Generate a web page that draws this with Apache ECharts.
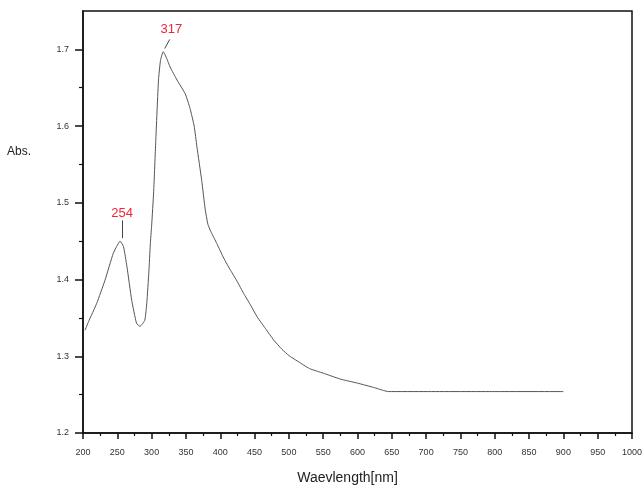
<!DOCTYPE html>
<html>
<head>
<meta charset="utf-8">
<script src="https://cdn.jsdelivr.net/npm/echarts@6/dist/echarts.min.js"></script>
<style>
  html, body { margin: 0; padding: 0; background: #fff; }
  #chart { width: 644px; height: 485px; }
</style>
</head>
<body>
<div id="chart"></div>
<script>
// UV-Vis absorption spectrum
var wavelength = [203, 208, 220, 232, 244, 249, 254, 259, 264, 271, 278, 283, 290, 293, 296, 298, 300, 303, 306, 310, 313, 317, 322, 327, 337, 349, 356, 362, 366, 373, 378, 382, 386, 395, 405, 415, 425, 434, 444, 454, 466, 478, 490, 500, 512, 530, 550, 576, 600, 625, 645, 700, 800, 900];
var absorbance = [1.334, 1.345, 1.369, 1.399, 1.434, 1.443, 1.450, 1.443, 1.417, 1.373, 1.343, 1.339, 1.347, 1.370, 1.410, 1.445, 1.470, 1.515, 1.580, 1.660, 1.686, 1.697, 1.688, 1.677, 1.660, 1.642, 1.623, 1.600, 1.573, 1.529, 1.492, 1.472, 1.463, 1.447, 1.428, 1.412, 1.397, 1.382, 1.367, 1.351, 1.336, 1.321, 1.309, 1.301, 1.294, 1.284, 1.278, 1.270, 1.265, 1.259, 1.254, 1.254, 1.254, 1.254];

var peakWavelengths = [254, 317];
var majorTicksY = [1.2, 1.3, 1.4, 1.5, 1.6, 1.7];
var minorTicksY = [1.25, 1.35, 1.45, 1.55, 1.65];

var spectrum = wavelength.map(function (w, i) { return [w, absorbance[i]]; });
function absAt(w) { return absorbance[wavelength.indexOf(w)]; }

var red = '#f2243a';
var labelOffsets = [[2, -28], [8, -22]];
// leader line ends, in data units relative to each peak
var leaders = [
  [[3, 0.004], [3, 0.027]],
  [[2, 0.004], [9.5, 0.016]]
];

var chart = echarts.init(document.getElementById('chart'));
chart.setOption({
  animation: false,
  backgroundColor: '#fff',
  textStyle: { fontFamily: 'Liberation Sans, Arial, sans-serif' },
  grid: {
    left: 83, right: 12, top: 11, bottom: 52,
    containLabel: false, outerBoundsMode: 'none',
    show: true, borderColor: '#111', borderWidth: 1.5, backgroundColor: 'transparent'
  },
  graphic: [{
    type: 'text', left: 7, top: 146,
    style: { text: 'Abs.', font: '12px "Liberation Sans", Arial, sans-serif', fill: '#222' }
  }],
  xAxis: {
    type: 'value', min: 200, max: 1000, interval: 50,
    axisLine: { lineStyle: { color: '#111', width: 1.5 } },
    axisTick: { inside: false, length: 6, lineStyle: { color: '#111', width: 1.5 } },
    minorTick: { show: true, splitNumber: 2, length: 3, lineStyle: { color: '#111', width: 1.2 } },
    splitLine: { show: false },
    axisLabel: { fontSize: 9, color: '#333', margin: 15, formatter: function (v) { return String(v); } },
    name: 'Waevlength[nm]', nameLocation: 'middle', nameGap: 38,
    nameTextStyle: { fontSize: 14, color: '#222', padding: [0, 20, 0, 0] }
  },
  yAxis: [{
    type: 'value', min: 1.2, max: 1.75, interval: 0.05,
    axisLine: { lineStyle: { color: '#111', width: 1.5 } },
    axisTick: { inside: false, length: 4, customValues: minorTicksY, lineStyle: { color: '#111', width: 1.2 } },
    splitLine: { show: false },
    axisLabel: { fontSize: 9, color: '#333', margin: 14, customValues: majorTicksY,
      formatter: function (v) { return v.toFixed(1); } }
  }, {
    type: 'value', min: 1.2, max: 1.75, interval: 0.05, position: 'left',
    axisLine: { show: false },
    axisTick: { inside: false, length: 8, customValues: majorTicksY, lineStyle: { color: '#111', width: 1.5 } },
    splitLine: { show: false },
    axisLabel: { show: false }
  }],
  series: [{
    type: 'line',
    data: spectrum,
    showSymbol: false,
    smooth: 0.15,
    lineStyle: { color: '#555', width: 1 },
    markPoint: {
      symbol: 'circle', symbolSize: 0,
      data: peakWavelengths.map(function (w, i) {
        return {
          coord: [w, absAt(w)], value: w,
          label: { show: true, position: 'inside', offset: labelOffsets[i], formatter: String(w),
            color: red, fontSize: 13 }
        };
      })
    },
    markLine: {
      silent: true, symbol: ['none', 'none'],
      label: { show: false },
      lineStyle: { color: '#444', width: 1, type: 'solid' },
      data: peakWavelengths.map(function (w, i) {
        var a = absAt(w), L = leaders[i];
        return [{ coord: [w + L[0][0], a + L[0][1]] }, { coord: [w + L[1][0], a + L[1][1]] }];
      })
    }
  }]
});
</script>
</body>
</html>
